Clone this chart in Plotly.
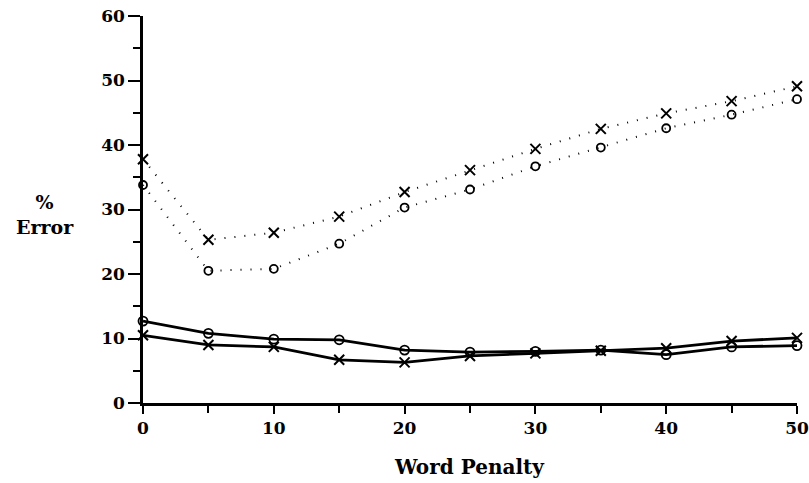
import plotly.graph_objects as go

penalty = [0, 5, 10, 15, 20, 25, 30, 35, 40, 45, 50]
dotted_x = [37.8, 25.3, 26.4, 28.9, 32.7, 36.1, 39.4, 42.5, 44.9, 46.8, 49.1]
dotted_o = [33.8, 20.5, 20.8, 24.7, 30.3, 33.1, 36.7, 39.6, 42.6, 44.7, 47.1]
solid_o = [12.7, 10.8, 9.9, 9.8, 8.2, 7.9, 8.0, 8.2, 7.5, 8.7, 8.9]
solid_x = [10.5, 9.0, 8.7, 6.7, 6.3, 7.3, 7.7, 8.1, 8.5, 9.6, 10.1]
y_ticks = [0, 10, 20, 30, 40, 50, 60]
y_minor = [5, 15, 25, 35, 45, 55]
x_ticks = [0, 10, 20, 30, 40, 50]
x_minor = [5, 15, 25, 35, 45]

FONT = "DejaVu Serif"
fig = go.Figure()

def add(y, symbol, dash, width, msize, mline):
    fig.add_trace(go.Scatter(
        x=penalty, y=y, mode="lines+markers", cliponaxis=False,
        line=dict(color="black", width=width, dash=dash),
        marker=dict(symbol=symbol, size=msize, color="black",
                    line=dict(color="black", width=mline)),
        showlegend=False))

add(dotted_x, "x-thin-open", "1px,9px", 2, 10, 2)
add(dotted_o, "circle-open", "1px,9px", 2, 8, 1.8)
add(solid_o, "circle-open", "solid", 2.8, 9, 1.8)
add(solid_x, "x-thin-open", "solid", 2.8, 10, 2)

fig.update_layout(
    template="none",
    width=809, height=483,
    margin=dict(l=143, r=12, t=16, b=80, autoexpand=False),
    plot_bgcolor="white", paper_bgcolor="white",
    font=dict(family=FONT, color="black", size=15),
    xaxis=dict(range=[0, 50], tickvals=x_ticks, showgrid=False, zeroline=False,
               automargin=False, ticklabeloverflow="allow",
               showline=True, linecolor="black", linewidth=2.5,
               ticks="outside", ticklen=8, tickwidth=2, tickcolor="black",
               minor=dict(tickvals=x_minor, ticks="outside", ticklen=7,
                          tickwidth=2, tickcolor="black", showgrid=False),
               tickfont=dict(family=FONT, size=17, weight="bold")),
    yaxis=dict(range=[0, 60], tickvals=y_ticks, showgrid=False, zeroline=False,
               automargin=False, ticklabeloverflow="allow",
               showline=True, linecolor="black", linewidth=2.5,
               ticks="outside", ticklen=12, tickwidth=2, tickcolor="black",
               minor=dict(tickvals=y_minor, ticks="outside", ticklen=7,
                          tickwidth=2, tickcolor="black", showgrid=False),
               tickfont=dict(family=FONT, size=17, weight="bold")),
    annotations=[
        dict(text="<b>%<br>Error</b>", xref="paper", yref="paper", x=-0.150, y=0.486,
             xanchor="center", yanchor="middle",
             showarrow=False, font=dict(family=FONT, size=19), align="center"),
        dict(text="<b>Word Penalty</b>", xref="paper", yref="paper", x=0.499, y=-0.165,
             xanchor="center", yanchor="middle",
             showarrow=False, font=dict(family=FONT, size=20)),
    ],
)

fig.write_html(
    "out.html",
    config={"displayModeBar": False},
    post_script="document.body.style.margin='0';document.body.style.overflow='hidden';",
)
